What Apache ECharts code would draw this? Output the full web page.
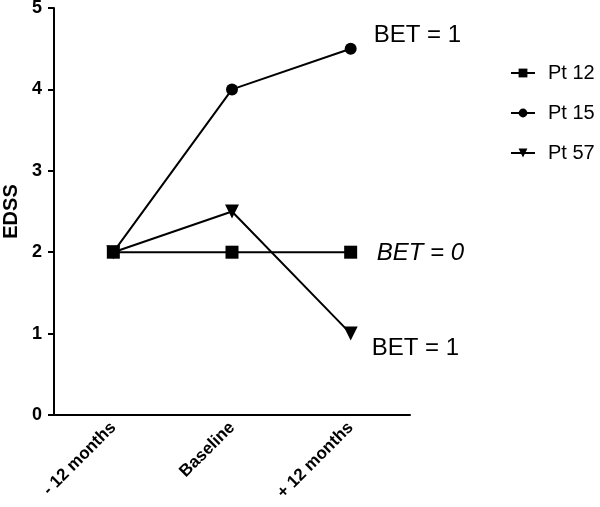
<!DOCTYPE html>
<html>
<head>
<meta charset="utf-8">
<script src="https://cdn.jsdelivr.net/npm/echarts@6/dist/echarts.min.js"></script>
<style>
html,body{margin:0;padding:0;background:#fff;}
#c{width:600px;height:507px;}
</style>
</head>
<body>
<div id="c"></div>
<script>
var categories = ['- 12 months', 'Baseline', '+ 12 months'];
var pt12 = [2, 2, 2];
var pt15 = [2, 4, 4.5];
var pt57 = [2, 2.5, 1];
var seriesNames = ['Pt 12', 'Pt 15', 'Pt 57'];
var yTicks = [0, 1, 2, 3, 4, 5];
var annotations = [
  { series: 'Pt 15', cat: '+ 12 months', value: 4.5, text: 'BET = 1', italic: false },
  { series: 'Pt 12', cat: '+ 12 months', value: 2, text: 'BET = 0', italic: true },
  { series: 'Pt 57', cat: '+ 12 months', value: 1, text: 'BET = 1', italic: false }
];

var FONT = '"Liberation Sans", Arial, sans-serif';
var chart = echarts.init(document.getElementById('c'), null, { renderer: 'canvas' });

var annOffsets = {
  0: [23, -13],
  1: [26, 1],
  2: [21, 15]
};

function markFor(name) {
  var list = [];
  annotations.forEach(function (a, i) {
    if (a.series !== name) return;
    list.push({
      coord: [a.cat, a.value],
      symbol: 'circle',
      symbolSize: 0,
      label: {
        show: true,
        formatter: a.text,
        position: 'right',
        distance: 0,
        offset: annOffsets[i],
        fontSize: 24,
        fontStyle: a.italic ? 'italic' : 'normal',
        fontFamily: FONT,
        color: '#000'
      }
    });
  });
  return list.length ? { silent: true, animation: false, data: list } : undefined;
}

function mkSeries(name, data, symbol, size, rotate) {
  return {
    name: name,
    type: 'line',
    data: data,
    symbol: symbol,
    symbolSize: size,
    symbolRotate: rotate || 0,
    showAllSymbol: true,
    lineStyle: { color: '#000', width: 2 },
    itemStyle: { color: '#000', borderWidth: 0 },
    emphasis: { disabled: true },
    markPoint: markFor(name),
    animation: false,
    z: 3
  };
}

chart.setOption({
  animation: false,
  backgroundColor: '#fff',
  grid: { left: 54, right: 190, top: 8, bottom: 92, containLabel: false, outerBoundsMode: 'none' },
  legend: {
    orient: 'vertical',
    left: 505,
    top: 58,
    itemWidth: 24,
    itemHeight: 11,
    itemGap: 20,
    data: seriesNames,
    textStyle: { fontSize: 20, fontFamily: FONT, color: '#000', lineHeight: 20, padding: [0, 0, 0, 8] }
  },
  xAxis: {
    type: 'category',
    data: categories,
    boundaryGap: true,
    axisLine: { lineStyle: { color: '#000', width: 2 } },
    axisTick: { alignWithLabel: true, length: 6, lineStyle: { color: '#000', width: 2 } },
    axisLabel: {
      rotate: 45,
      interval: 0,
      margin: 10,
      fontSize: 17,
      fontWeight: 'bold',
      fontFamily: FONT,
      color: '#000'
    }
  },
  yAxis: {
    type: 'value',
    min: yTicks[0],
    max: yTicks[yTicks.length - 1],
    interval: 1,
    name: 'EDSS',
    nameLocation: 'middle',
    nameRotate: 90,
    nameGap: 31,
    nameTextStyle: { fontSize: 20, fontWeight: 'bold', fontFamily: FONT, color: '#000' },
    splitLine: { show: false },
    axisLine: { show: true, lineStyle: { color: '#000', width: 2 } },
    axisTick: { show: true, length: 6, lineStyle: { color: '#000', width: 2 } },
    axisLabel: {
      margin: 12,
      fontSize: 18,
      fontWeight: 'bold',
      fontFamily: FONT,
      color: '#000'
    }
  },
  series: [
    mkSeries('Pt 12', pt12, 'rect', 13),
    mkSeries('Pt 15', pt15, 'circle', 12),
    mkSeries('Pt 57', pt57, 'triangle', 14, 180)
  ]
});
</script>
</body>
</html>
